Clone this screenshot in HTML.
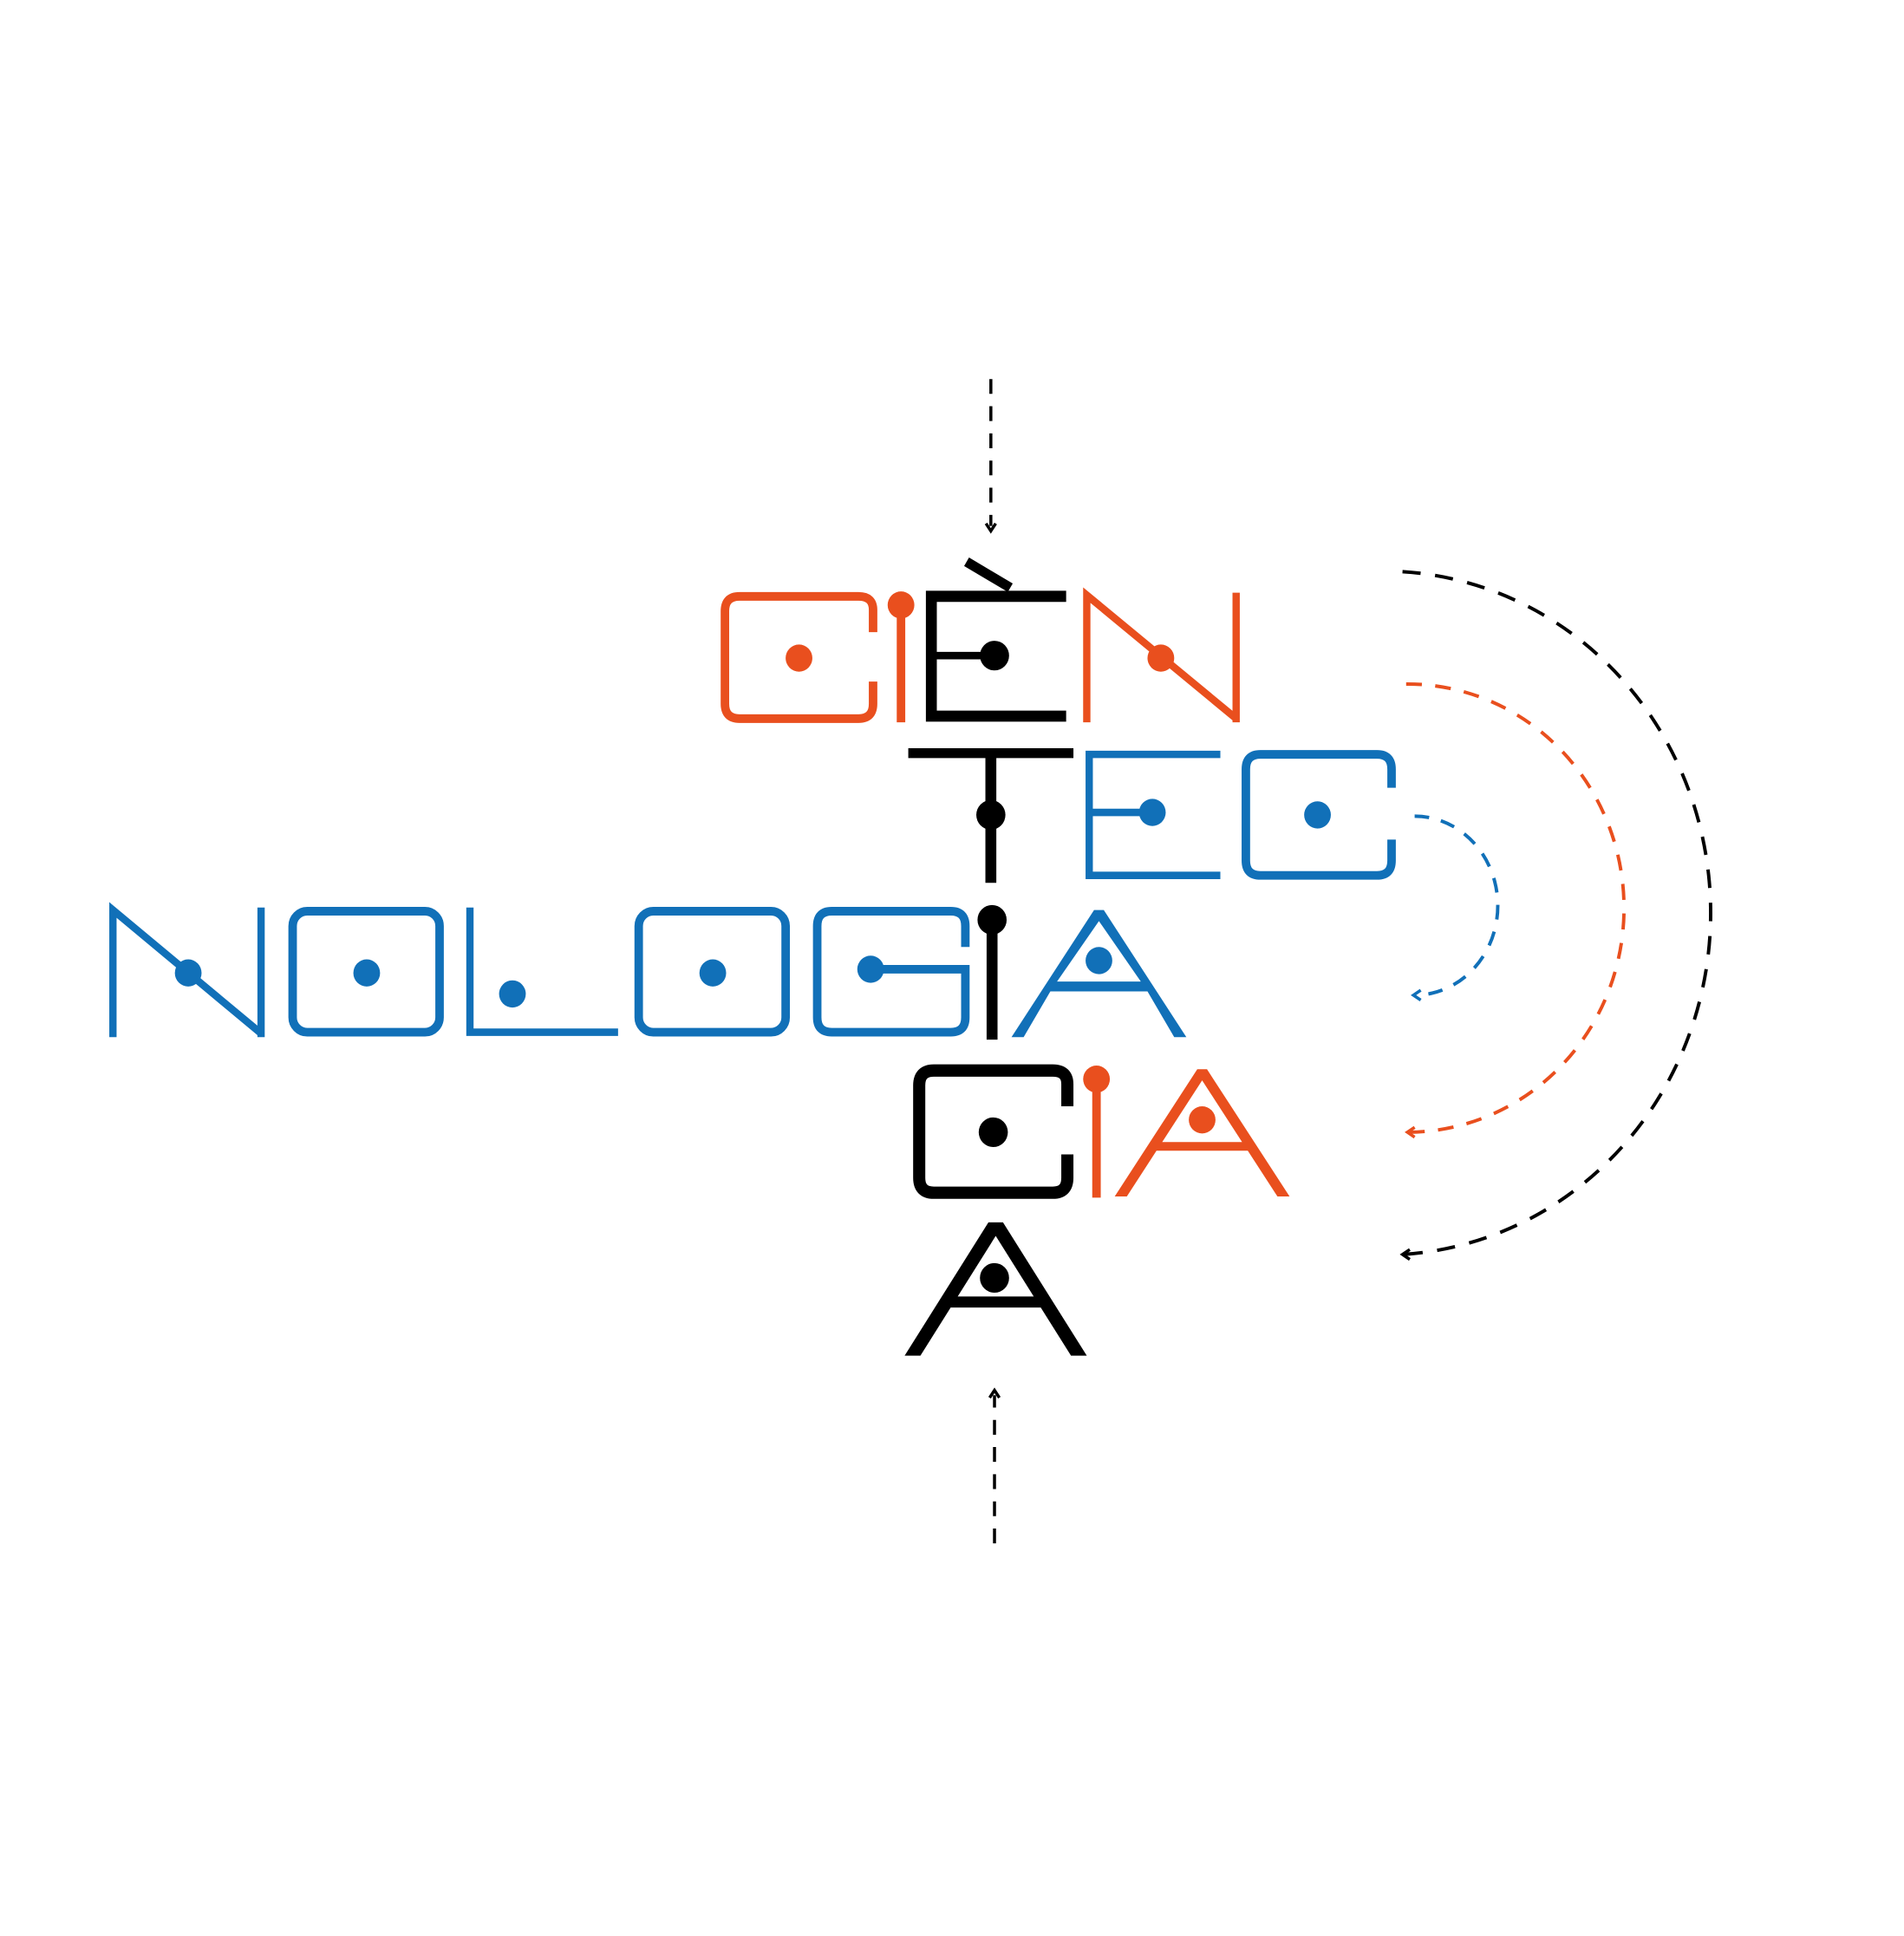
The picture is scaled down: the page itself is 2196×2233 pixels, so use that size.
<!DOCTYPE html>
<html><head><meta charset="utf-8"><style>html,body{margin:0;padding:0;background:#fff}svg{display:block}</style></head>
<body>
<svg width="2196" height="2233" viewBox="0 0 1568 1568" preserveAspectRatio="none" xmlns="http://www.w3.org/2000/svg">
<rect width="1568" height="1568" fill="#fff"/>
<g fill="none" stroke-linecap="butt">
<!-- arrows vertical -->
<line x1="816" y1="307" x2="816" y2="426" stroke="#000" stroke-width="2.5" stroke-dasharray="12,10"/>
<path d="M812,424 L816,430 L820,424" stroke="#000" stroke-width="2.5"/>
<line x1="819" y1="1250" x2="819" y2="1130" stroke="#000" stroke-width="2.5" stroke-dasharray="12,10"/>
<path d="M815,1132 L819,1126 L823,1132" stroke="#000" stroke-width="2.5"/>
<!-- arcs -->
<path d="M1165,661 A68,72 0 0 1 1165,806" stroke="#1170b8" stroke-width="2.8" stroke-dasharray="12,10"/>
<path d="M1170,802 L1164,806 L1170,810" stroke="#1170b8" stroke-width="2.5"/>
<path d="M1158,554 A178,181 0 0 1 1160,917" stroke="#e94f1e" stroke-width="2.8" stroke-dasharray="13,11"/>
<path d="M1165,913 L1159,917 L1165,921" stroke="#e94f1e" stroke-width="2.5"/>
<path d="M1155,463 A270,277 0 0 1 1155,1016" stroke="#000" stroke-width="2.8" stroke-dasharray="15,12"/>
<path d="M1161,1012 L1155,1016 L1161,1020" stroke="#000" stroke-width="2.5"/>

<!-- CIEN -->
<path d="M719,512 V494 Q719,483 707,483 H609 Q597,483 597,495 V570 Q597,582 609,582 H707 Q719,582 719,570 V552" stroke="#e94f1e" stroke-width="7"/>
<line x1="742" y1="490" x2="742" y2="585" stroke="#e94f1e" stroke-width="7"/>
<line x1="796" y1="455" x2="832" y2="476" stroke="#000" stroke-width="8"/>
<path d="M878,483 H767 V580 H878" stroke="#000" stroke-width="9"/>
<line x1="767" y1="531" x2="818" y2="531" stroke="#000" stroke-width="6"/>
<path d="M895,585 V482 L1018,582 M1018,480 V585" stroke="#e94f1e" stroke-width="6"/>
<!-- TEC -->
<line x1="748" y1="610" x2="884" y2="610" stroke="#000" stroke-width="8"/>
<line x1="816" y1="610" x2="816" y2="715" stroke="#000" stroke-width="9"/>
<path d="M1005,611 H897 V709 H1005" stroke="#1170b8" stroke-width="6"/>
<line x1="897" y1="658" x2="949" y2="658" stroke="#1170b8" stroke-width="6"/>
<path d="M1146,638 V623 Q1146,611 1134,611 H1038 Q1026,611 1026,623 V697 Q1026,709 1038,709 H1134 Q1146,709 1146,697 V680" stroke="#1170b8" stroke-width="7"/>
<!-- NOLOGIA -->
<path d="M93,840 V737 L215,837 M215,735 V840" stroke="#1170b8" stroke-width="6"/>
<rect x="241" y="738" width="121" height="98" rx="12" stroke="#1170b8" stroke-width="7"/>
<path d="M387,735 V836 H509" stroke="#1170b8" stroke-width="6"/>
<rect x="526" y="738" width="121" height="98" rx="12" stroke="#1170b8" stroke-width="7"/>
<path d="M795,767 V750 Q795,738 783,738 H685 Q673,738 673,750 V824 Q673,836 685,836 H783 Q795,836 795,824 V785 H717" stroke="#1170b8" stroke-width="7"/>
<line x1="817" y1="745" x2="817" y2="842" stroke="#000" stroke-width="9"/>
<!-- CIA -->
<path d="M879,896 V878 Q879,867 867,867 H769 Q757,867 757,879 V954 Q757,966 769,966 H867 Q879,966 879,954 V935" stroke="#000" stroke-width="10"/>
<line x1="903" y1="874" x2="903" y2="970" stroke="#e94f1e" stroke-width="7"/>
</g>
<!-- A shapes -->
<path fill-rule="evenodd" fill="#1170b8" d="M833,840 L901,737 L909,737 L977,840 L967,840 L945,803 L865,803 L843,840 Z M905,746 L939.5,795 L870.5,795 Z"/>
<path fill-rule="evenodd" fill="#e94f1e" d="M918,969 L986,866 L994,866 L1062,969 L1052,969 L1027.6,932 L952.4,932 L928,969 Z M990,875 L1022.9,925 L957.1,925 Z"/>
<path fill-rule="evenodd" fill="#000" d="M745,1098 L814,990 L826,990 L895,1098 L882,1098 L857.1,1059 L782.9,1059 L758,1098 Z M820,1001 L851.3,1050 L788.7,1050 Z"/>
<g>
<circle cx="658" cy="533" r="11" fill="#e94f1e"/>
<circle cx="742" cy="490" r="11" fill="#e94f1e"/>
<circle cx="819" cy="531" r="12" fill="#000"/>
<circle cx="956" cy="533" r="11" fill="#e94f1e"/>
<circle cx="816" cy="660" r="12" fill="#000"/>
<circle cx="949" cy="658" r="11" fill="#1170b8"/>
<circle cx="1085" cy="660" r="11" fill="#1170b8"/>
<circle cx="155" cy="788" r="11" fill="#1170b8"/>
<circle cx="302" cy="788" r="11" fill="#1170b8"/>
<circle cx="422" cy="805" r="11" fill="#1170b8"/>
<circle cx="587" cy="788" r="11" fill="#1170b8"/>
<circle cx="717" cy="785" r="11" fill="#1170b8"/>
<circle cx="817" cy="745" r="12" fill="#000"/>
<circle cx="905" cy="778" r="11" fill="#1170b8"/>
<circle cx="818" cy="917" r="12" fill="#000"/>
<circle cx="903" cy="874" r="11" fill="#e94f1e"/>
<circle cx="990" cy="907" r="11" fill="#e94f1e"/>
<circle cx="819" cy="1035" r="12" fill="#000"/>
</g>
</svg>
</body></html>
